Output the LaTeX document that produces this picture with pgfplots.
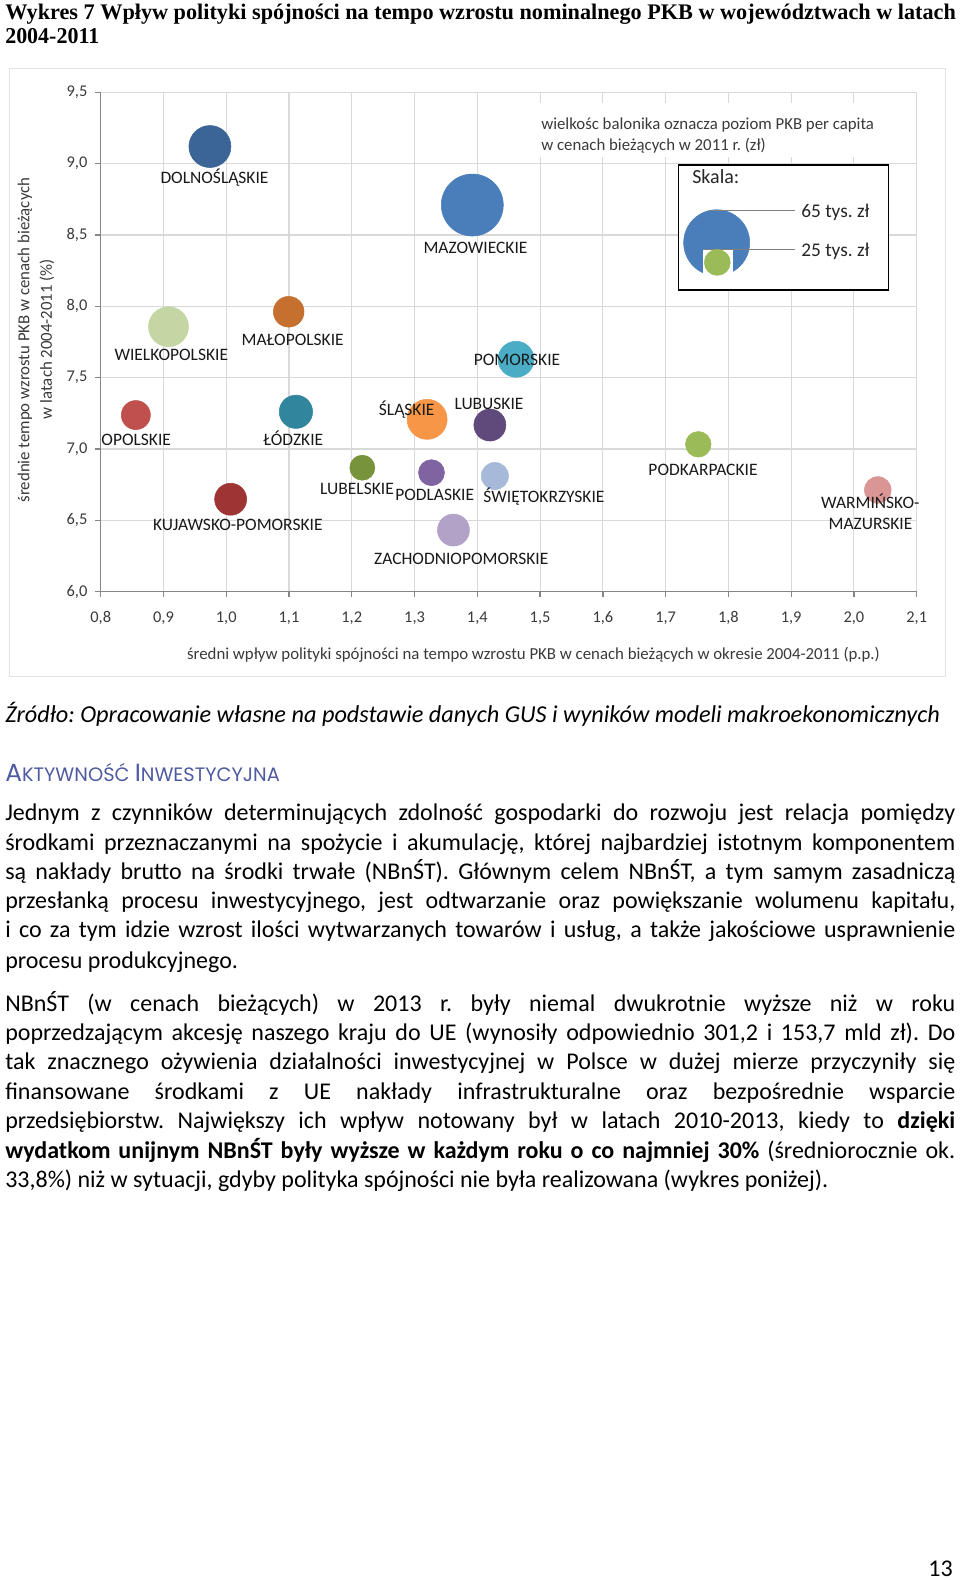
\documentclass[border=0pt]{standalone}
\usepackage{pgfplots}
\pgfplotsset{compat=1.18}
\usepackage{fontspec}
\setmainfont{Carlito}
\newfontfamily\timesfont{Liberation Serif}
\newfontfamily\headfont{Poppins}
\definecolor{gridc}{HTML}{D9D9D9}
\definecolor{axisc}{HTML}{868686}
\definecolor{tickc}{HTML}{3A3A3A}
\definecolor{framec}{HTML}{E3E3E3}
\definecolor{headc}{HTML}{4F5BA0}
\definecolor{cDOL}{HTML}{3B6597}
\definecolor{cMAZ}{HTML}{4A7EBB}
\definecolor{cWIE}{HTML}{C5D6A5}
\definecolor{cMAL}{HTML}{C5702F}
\definecolor{cPOM}{HTML}{4BACC6}
\definecolor{cOPO}{HTML}{C0504D}
\definecolor{cLOD}{HTML}{31859C}
\definecolor{cSLA}{HTML}{F79646}
\definecolor{cLBS}{HTML}{604A7B}
\definecolor{cLBL}{HTML}{77933C}
\definecolor{cPDL}{HTML}{8064A2}
\definecolor{cSWI}{HTML}{A7B9D9}
\definecolor{cKUJ}{HTML}{9E3534}
\definecolor{cZAC}{HTML}{B3A2C7}
\definecolor{cPDK}{HTML}{9BBB59}
\definecolor{cWAR}{HTML}{D99694}
\frenchspacing
\newcommand\bodyfont{\fontsize{18pt}{22pt}\selectfont}
\newcommand\jl[1]{\makebox[712.5pt][s]{#1}}
\pgfplotsset{chartbox/.style={at={(AO)}, anchor=south west,
  scale only axis, width=612pt, height=374.55pt,
  xmin=0.8, xmax=2.1, ymin=6, ymax=9.5, clip=false}}
\begin{document}
\begin{tikzpicture}[x=0.75pt,y=0.75pt]
\useasboundingbox (0,0) rectangle (960,-1581);
\fill[white] (0,0) rectangle (960,-1581);
% chart frame
\draw[framec, line width=0.75pt] (9.5,-68) rectangle (945,-676);
\coordinate (AO) at (100.7,-591.7);
\begin{axis}[chartbox,
  xtick={0.8,0.9,1.0,1.1,1.2,1.3,1.4,1.5,1.6,1.7,1.8,1.9,2.0,2.1},
  ytick={6,6.5,7,7.5,8,8.5,9,9.5},
  grid=major, major grid style={gridc, line width=0.8pt},
  axis x line*=bottom, axis y line*=left,
  axis line style={axisc, line width=1pt, -},
  tick style={axisc, line width=1pt},
  tick align=outside, major tick length=4pt,
  ticklabel style={font=\fontsize{12.3pt}{14pt}\selectfont, text=tickc},
  yticklabel style={xshift=-2.5pt},
  xticklabel style={text height=8.6pt, text depth=1.5pt, yshift=-7pt},
  /pgf/number format/.cd, use comma, fixed, fixed zerofill, precision=1, assume math mode=true,
]
% annotation background
\fill[white] (axis cs:1.4919,9.4247) rectangle (axis cs:2.0686,9.0463);
% bubbles
\addplot[only marks, mark=*, mark size=15.75pt, cDOL, mark options={draw=cDOL, fill=cDOL}] coordinates {(0.974,9.12)};
\addplot[only marks, mark=*, mark size=23.25pt, cMAZ, mark options={draw=cMAZ, fill=cMAZ}] coordinates {(1.392,8.71)};
\addplot[only marks, mark=*, mark size=15pt, cWIE, mark options={draw=cWIE, fill=cWIE}] coordinates {(0.908,7.857)};
\addplot[only marks, mark=*, mark size=11.5pt, cMAL, mark options={draw=cMAL, fill=cMAL}] coordinates {(1.0995,7.962)};
\addplot[only marks, mark=*, mark size=13.5pt, cPOM, mark options={draw=cPOM, fill=cPOM}] coordinates {(1.4617,7.629)};
\addplot[only marks, mark=*, mark size=10.9pt, cOPO, mark options={draw=cOPO, fill=cOPO}] coordinates {(0.856,7.238)};
\addplot[only marks, mark=*, mark size=12.5pt, cLOD, mark options={draw=cLOD, fill=cLOD}] coordinates {(1.111,7.261)};
\addplot[only marks, mark=*, mark size=15pt, cSLA, mark options={draw=cSLA, fill=cSLA}] coordinates {(1.320,7.208)};
\addplot[only marks, mark=*, mark size=12pt, cLBS, mark options={draw=cLBS, fill=cLBS}] coordinates {(1.420,7.168)};
\addplot[only marks, mark=*, mark size=9.4pt, cLBL, mark options={draw=cLBL, fill=cLBL}] coordinates {(1.2168,6.869)};
\addplot[only marks, mark=*, mark size=9.75pt, cPDL, mark options={draw=cPDL, fill=cPDL}] coordinates {(1.327,6.834)};
\addplot[only marks, mark=*, mark size=10.2pt, cSWI, mark options={draw=cSWI, fill=cSWI}] coordinates {(1.428,6.811)};
\addplot[only marks, mark=*, mark size=12pt, cKUJ, mark options={draw=cKUJ, fill=cKUJ}] coordinates {(1.007,6.648)};
\addplot[only marks, mark=*, mark size=12pt, cZAC, mark options={draw=cZAC, fill=cZAC}] coordinates {(1.362,6.432)};
\addplot[only marks, mark=*, mark size=9.6pt, cPDK, mark options={draw=cPDK, fill=cPDK}] coordinates {(1.752,7.033)};
\addplot[only marks, mark=*, mark size=10pt, cWAR, mark options={draw=cWAR, fill=cWAR}] coordinates {(2.038,6.713)};
% scale box
\filldraw[fill=white, draw=black, line width=1.1pt] (axis cs:1.7202,8.990) rectangle (axis cs:2.0547,8.114);
\addplot[only marks, mark=*, mark size=24.75pt, cMAZ, mark options={draw=cMAZ, fill=cMAZ}] coordinates {(1.7813,8.4457)};
\end{axis}
% overlay axis for the scale legend details
\begin{axis}[chartbox, hide axis]
\fill[white] (axis cs:1.7591,8.3994) rectangle (axis cs:1.8079,8.205);
\draw[gray, line width=0.8pt] (axis cs:1.7710,8.670) -- (axis cs:1.9053,8.670);
\draw[gray, line width=0.8pt] (axis cs:1.7591,8.3994) -- (axis cs:1.9053,8.3994);
\addplot[only marks, mark=*, mark size=9.75pt, cPDK, mark options={draw=cPDK, fill=cPDK}] coordinates {(1.7823,8.308)};
\end{axis}
% region labels
\begin{scope}[every node/.style={anchor=base, inner sep=0pt, font=\fontsize{13.1pt}{15pt}\selectfont, text=black!90}]
\node at (214.5,-183) {DOLNOŚLĄSKIE};
\node at (475.5,-253.2) {MAZOWIECKIE};
\node at (171.3,-360) {WIELKOPOLSKIE};
\node at (292.7,-345) {MAŁOPOLSKIE};
\node at (517,-365.3) {POMORSKIE};
\node at (136.2,-445) {OPOLSKIE};
\node at (293.3,-445) {ŁÓDZKIE};
\node at (406.7,-415) {ŚLĄSKIE};
\node at (489,-409.5) {LUBUSKIE};
\node at (357,-494) {LUBELSKIE};
\node at (434.7,-500.7) {PODLASKIE};
\node at (544,-502.4) {ŚWIĘTOKRZYSKIE};
\node at (237.8,-530.7) {KUJAWSKO-POMORSKIE};
\node at (461.3,-564) {ZACHODNIOPOMORSKIE};
\node at (703,-475) {PODKARPACKIE};
\node at (870.3,-508.4) {WARMIŃSKO-};
\node at (870.5,-529) {MAZURSKIE};
\end{scope}
% axis titles
\begin{scope}[every node/.style={inner sep=0pt, font=\fontsize{12.6pt}{15pt}\selectfont, text=tickc}]
\node[rotate=90] at (25,-340) {średnie tempo wzrostu PKB w cenach bieżących};
\node[rotate=90] at (47,-339) {w latach 2004-2011 (\%)};
\node at (533.5,-654.5) {średni wpływ polityki spójności na tempo wzrostu PKB w cenach bieżących w okresie 2004-2011 (p.p.)};
\node[anchor=base west] at (541,-129) {wielkośc balonika oznacza poziom PKB per capita};
\node[anchor=base west] at (541,-150) {w cenach bieżących w 2011 r. (zł)};
\end{scope}
\node[anchor=base west, inner sep=0pt, font=\fontsize{15pt}{18pt}\selectfont, text=black!85] at (692,-183) {Skala:};
\node[anchor=base west, inner sep=0pt, font=\fontsize{14.5pt}{18pt}\selectfont, text=black!85] at (801,-217) {65 tys. zł};
\node[anchor=base west, inner sep=0pt, font=\fontsize{14.5pt}{18pt}\selectfont, text=black!85] at (801,-256) {25 tys. zł};
% title
\node[anchor=base west, inner sep=0pt] at (5,-19.6) {\resizebox{713pt}{11.6pt}{\timesfont\bfseries Wykres 7 Wpływ polityki spójności na tempo wzrostu nominalnego PKB w województwach w latach}};
\node[anchor=base west, inner sep=0pt] at (5,-43.8) {\resizebox{70.5pt}{11.3pt}{\timesfont\bfseries 2004-2011}};
% source
\node[anchor=base west, inner sep=0pt] at (5,-722) {\resizebox{701pt}{!}{\bodyfont\itshape Źródło: Opracowanie własne na podstawie danych GUS i wyników modeli makroekonomicznych}};
% heading
\node[anchor=base west, inner sep=0pt, text=headc] at (5,-781.5) {\resizebox{206pt}{!}{\headfont\fontsize{16pt}{18pt}\selectfont A\fontsize{12.5pt}{15pt}\selectfont KTYWNOŚĆ \fontsize{16pt}{18pt}\selectfont I\fontsize{12.5pt}{15pt}\selectfont NWESTYCYJNA}};
% body text
\begin{scope}[every node/.style={anchor=base west, inner sep=0pt, font=\bodyfont}]
\node at (5,-820.8) {\jl{Jednym z czynników determinujących zdolność gospodarki do rozwoju jest relacja pomiędzy}};
\node at (5,-850) {\jl{środkami przeznaczanymi na spożycie i akumulację, której najbardziej istotnym komponentem}};
\node at (5,-879.3) {\jl{są nakłady brutto na środki trwałe (NBnŚT). Głównym celem NBnŚT, a tym samym zasadniczą}};
\node at (5,-908.5) {\jl{przesłanką procesu inwestycyjnego, jest odtwarzanie oraz powiększanie wolumenu kapitału,}};
\node at (5,-937.8) {\jl{i co za tym idzie wzrost ilości wytwarzanych towarów i usług, a także jakościowe usprawnienie}};
\node at (5,-968) {procesu produkcyjnego.};
\node at (5,-1011.4) {\jl{NBnŚT (w cenach bieżących) w 2013 r. były niemal dwukrotnie wyższe niż w roku}};
\node at (5,-1040.6) {\jl{poprzedzającym akcesję naszego kraju do UE (wynosiły odpowiednio 301,2 i 153,7 mld zł). Do}};
\node at (5,-1069.9) {\jl{tak znacznego ożywienia działalności inwestycyjnej w Polsce w dużej mierze przyczyniły się}};
\node at (5,-1099.1) {\jl{finansowane środkami z UE nakłady infrastrukturalne oraz bezpośrednie wsparcie}};
\node at (5,-1128.4) {\jl{przedsiębiorstw. Największy ich wpływ notowany był w latach 2010-2013, kiedy to \textbf{dzięki}}};
\node at (5,-1158.6) {\jl{\textbf{wydatkom unijnym NBnŚT były wyższe w każdym roku o co najmniej 30\%} (średniorocznie ok.}};
\node at (5,-1187.8) {33,8\%) niż w sytuacji, gdyby polityka spójności nie była realizowana (wykres poniżej).};
\node[anchor=base east] at (953,-1576) {13};
\end{scope}
\end{tikzpicture}
\end{document}
